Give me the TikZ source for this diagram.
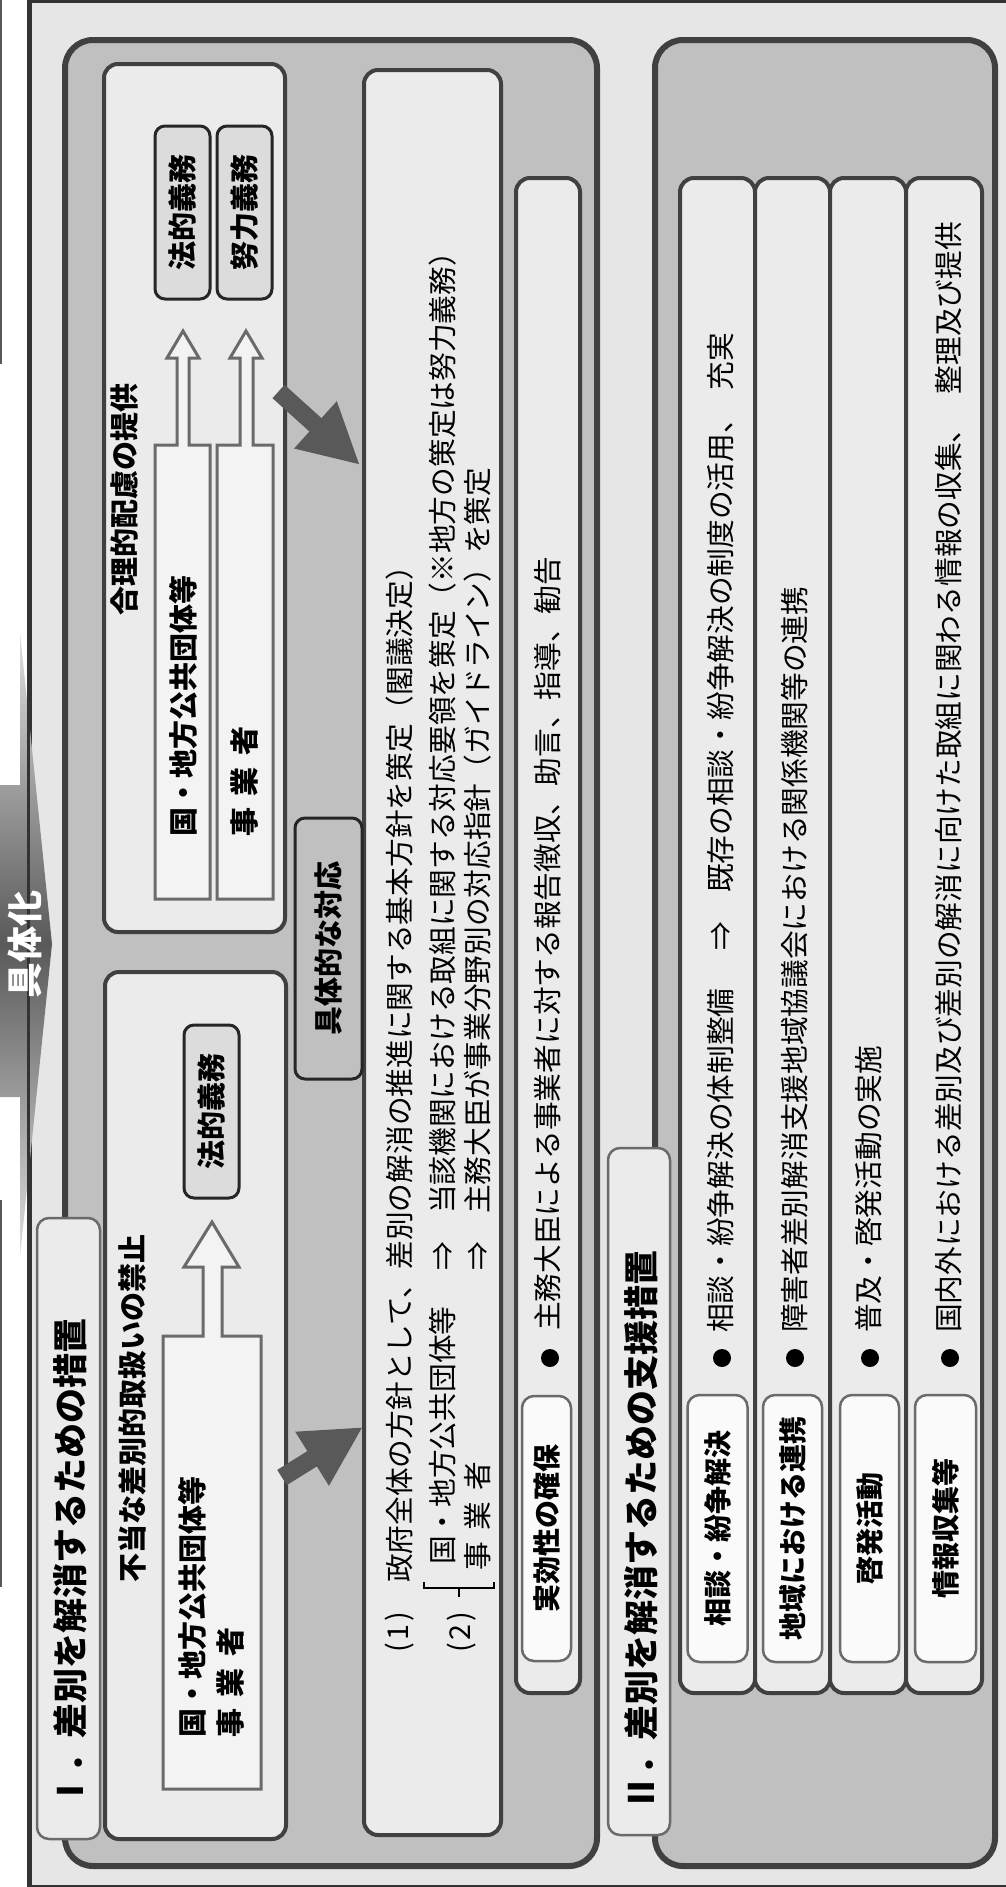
\documentclass[tikz,border=0pt]{standalone}
\usepackage{fontspec}
\setmainfont{Noto Sans CJK JP}
\usetikzlibrary{arrows.meta}
\definecolor{PageGray}{HTML}{E6E6E6}
\definecolor{PanelGray}{HTML}{C0C0C0}
\definecolor{BoxGray}{HTML}{EBEBEB}
\definecolor{DutyGray}{HTML}{DCDCDC}
\definecolor{EdgeDark}{HTML}{404040}
\definecolor{EdgeMid}{HTML}{6A6A6A}
\definecolor{ArrowDark}{HTML}{595959}
\definecolor{ArrowFill}{HTML}{F3F3F3}
\definecolor{TagWhite}{HTML}{FAFAFA}

\begin{document}
\begin{tikzpicture}[x=1pt,y=-1pt,>=Latex]
    \tikzset{
      pagebox/.style={draw=black!80,line width=3pt,fill=PageGray,inner sep=0pt},
      panel/.style={draw=EdgeDark,line width=6pt,fill=PanelGray,rounded corners=28pt,inner sep=0pt},
      card/.style={draw=EdgeDark,line width=4pt,fill=BoxGray,rounded corners=14pt,inner sep=0pt},
      tabbox/.style={draw=EdgeMid,line width=2.5pt,fill=BoxGray,rounded corners=12pt,inner sep=0pt},
      tagbox/.style={draw=EdgeMid,line width=2.5pt,fill=TagWhite,rounded corners=12pt,rotate=90,
        inner sep=0pt,font=\fontsize{28}{32}\selectfont\bfseries},
      dutybox/.style={draw=black!85,line width=3pt,fill=DutyGray,rounded corners=10pt,rotate=90,
        inner sep=0pt,font=\fontsize{29}{32}\selectfont\bfseries},
      hollowarrow/.style={draw=EdgeMid,line width=3pt,fill=ArrowFill},
      bigarrow/.style={ArrowDark,line width=18pt,-{Triangle[length=60pt,width=59pt]}},
      bodytext/.style={rotate=90,anchor=west,inner sep=0pt,font=\fontsize{28.7}{34}\selectfont},
      headtext/.style={bodytext,font=\fontsize{29}{34}\selectfont\bfseries},
      titletext/.style={bodytext,font=\fontsize{35}{40}\selectfont\bfseries},
      bulletdot/.style={circle,fill=black,inner sep=0pt,minimum size=18pt}
    }
    \useasboundingbox (0,0) rectangle (1005,1887);
    \draw[black!65,line width=2pt] (1,0) -- (1,364) (1,1200) -- (1,1587);
    \node[pagebox,minimum width=982pt,minimum height=1885pt] (page) at (521,943.5) {};
    % arrow "具体化"
    \path[top color=black!12,bottom color=black!12,middle color=black!65]
      (0,785) -- (20,785) -- (20,632) -- (52,944) -- (20,1257) -- (20,1097) -- (0,1097) -- cycle;
    \draw[black!80,line width=3pt] (page.north west) -- (page.south west);
    \node[rotate=90,text=white,font=\fontsize{36}{40}\selectfont\bfseries] (concretize) at (25,944) {具体化};

    \node[panel,minimum width=532pt,minimum height=1826pt] (panelI) at (331,953) {};
    \node[panel,minimum width=340pt,minimum height=1826pt] (panelII) at (825,953) {};
    \node[tabbox,minimum width=63pt,minimum height=621pt] (tabI) at (68.5,1528.5) {};
    \node[tabbox,minimum width=62pt,minimum height=687pt] (tabII) at (639,1491.5) {};
    \node[titletext] (titleI) at (70,1809) {Ⅰ．差別を解消するための措置};
    \node[titletext] (titleII) at (641,1811) {Ⅱ．差別を解消するための支援措置};

    \node[card,minimum width=181pt,minimum height=868pt] (accom) at (194.5,498) {};
    \node[card,minimum width=181pt,minimum height=867pt] (prohib) at (195.5,1405.5) {};
    \node[card,minimum width=137pt,minimum height=1765pt] (measures) at (432.5,952.5) {};
    \node[card,minimum width=64pt,minimum height=1515pt] (enforce) at (548,935.5) {};
    \node[card,minimum width=75pt,minimum height=1515pt] (consult) at (717.5,935.5) {};
    \node[card,minimum width=75pt,minimum height=1515pt] (region) at (792.5,935.5) {};
    \node[card,minimum width=76pt,minimum height=1515pt] (aware) at (868,935.5) {};
    \node[card,minimum width=76pt,minimum height=1515pt] (info) at (944,935.5) {};

    % reasonable accommodation
    \node[headtext] (accomtitle) at (125,616) {合理的配慮の提供};
    \node[dutybox,minimum width=173pt,minimum height=55pt] (legalA) at (182.5,212.5) {法的義務};
    \node[dutybox,minimum width=173pt,minimum height=55pt] (effort) at (244.5,212.5) {努力義務};
    \draw[hollowarrow] (155,899) -- (155,445) -- (177,445) -- (177,358) -- (167,358) -- (183,331)
      -- (199,358) -- (189,358) -- (189,445) -- (210,445) -- (210,899) -- cycle;
    \draw[hollowarrow] (217,899) -- (217,445) -- (240,445) -- (240,358) -- (230,358) -- (246,331)
      -- (262,358) -- (253,358) -- (253,445) -- (273,445) -- (273,899) -- cycle;
    \node[headtext] (govA) at (183,837) {国・地方公共団体等};
    \node[headtext] (bizA) at (245,837) {事\hspace{.4em}業\hspace{.4em}者};

    % prohibition
    \node[headtext] (prohibtitle) at (132,1583) {不当な差別的取扱いの禁止};
    \node[dutybox,minimum width=173pt,minimum height=55pt] (legalB) at (211.5,1111.5) {法的義務};
    \draw[hollowarrow] (163,1789) -- (163,1336) -- (203,1336) -- (203,1267) -- (184,1267) -- (212,1222)
      -- (239,1267) -- (222,1267) -- (222,1336) -- (261,1336) -- (261,1789) -- cycle;
    \node[headtext] (govB) at (192,1738) {国・地方公共団体等};
    \node[headtext] (bizB) at (231,1738) {事\hspace{.4em}業\hspace{.4em}者};

    \node[dutybox,fill=PanelGray,minimum width=261pt,minimum height=67pt] (concrete) at (328.5,948.5) {具体的な対応};

    % measures
    \node[bodytext,anchor=center] (numA) at (400,1632) {(\hspace{3pt}1\hspace{3pt})};
    \node[bodytext] (lineA) at (400,1583) {政府全体の方針として、差別の解消の推進に関する基本方針を策定（閣議決定）};
    \node[bodytext,anchor=center] (numB) at (462,1632) {(\hspace{3pt}2\hspace{3pt})};
    \draw[line width=1.5pt] (494,1582) -- (494,1588) -- (424,1588) -- (424,1582) (459,1588) -- (459,1597);
    \node[bodytext] (gov) at (443,1565) {国・地方公共団体等};
    \node[bodytext] (biz) at (478,1571) {事\hspace{.4em}業\hspace{.4em}者};
    \node[bodytext,anchor=center] (thenA) at (443,1256) {⇒};
    \node[bodytext,anchor=center] (thenB) at (478,1256) {⇒};
    \node[bodytext] (lineB) at (443,1214) {当該機関における取組に関する対応要領を策定（※地方の策定は努力義務）};
    \node[bodytext] (lineC) at (478,1214) {主務大臣が事業分野別の対応指針（ガイドライン）を策定};

    \node[tagbox,minimum width=265pt,minimum height=49pt] (enforcetag) at (546.5,1528.5) {実効性の確保};
    \node[bulletdot] (dotE) at (550,1358) {};
    \node[bodytext] (enforcetext) at (548,1331) {主務大臣による事業者に対する報告徴収、助言、指導、勧告};

    % support measures
    \node[tagbox,minimum width=267pt,minimum height=60pt] (consulttag) at (717.5,1528.5) {相談・紛争解決};
    \node[tagbox,minimum width=267pt,minimum height=59pt] (regiontag) at (792.5,1528.5) {地域における連携};
    \node[tagbox,minimum width=267pt,minimum height=59pt] (awaretag) at (869.5,1528.5) {啓発活動};
    \node[tagbox,minimum width=267pt,minimum height=61pt] (infotag) at (945.5,1528.5) {情報収集等};
    \node[bulletdot] (dotA) at (722,1358) {};
    \node[bulletdot] (dotB) at (795,1358) {};
    \node[bulletdot] (dotC) at (870,1358) {};
    \node[bulletdot] (dotD) at (950,1358) {};
    \node[bodytext] (consulttext) at (721,1333) {相談・紛争解決の体制整備};
    \node[bodytext,anchor=center] (thenC) at (721,936) {⇒};
    \node[bodytext] (consultmore) at (721,893) {既存の相談・紛争解決の制度の活用、\hspace{.5em}充実};
    \node[bodytext] (regiontext) at (795,1333) {障害者差別解消支援地域協議会における関係機関等の連携};
    \node[bodytext] (awaretext) at (869,1333) {普及・啓発活動の実施};
    \node[bodytext] (infotext) at (949,1333) {国内外における差別及び差別の解消に向けた取組に関わる情報の収集、\hspace{.7em}整理及び提供};

    \coordinate (fromAccom) at (278.5,391.5);
    \coordinate (toMeasuresA) at (360,465);
    \coordinate (fromProhib) at (282,1477.5);
    \coordinate (toMeasuresB) at (363,1427);
    \draw[bigarrow] (fromAccom) -- (toMeasuresA);
    \draw[bigarrow] (fromProhib) -- (toMeasuresB);
  \end{tikzpicture}
\end{document}
